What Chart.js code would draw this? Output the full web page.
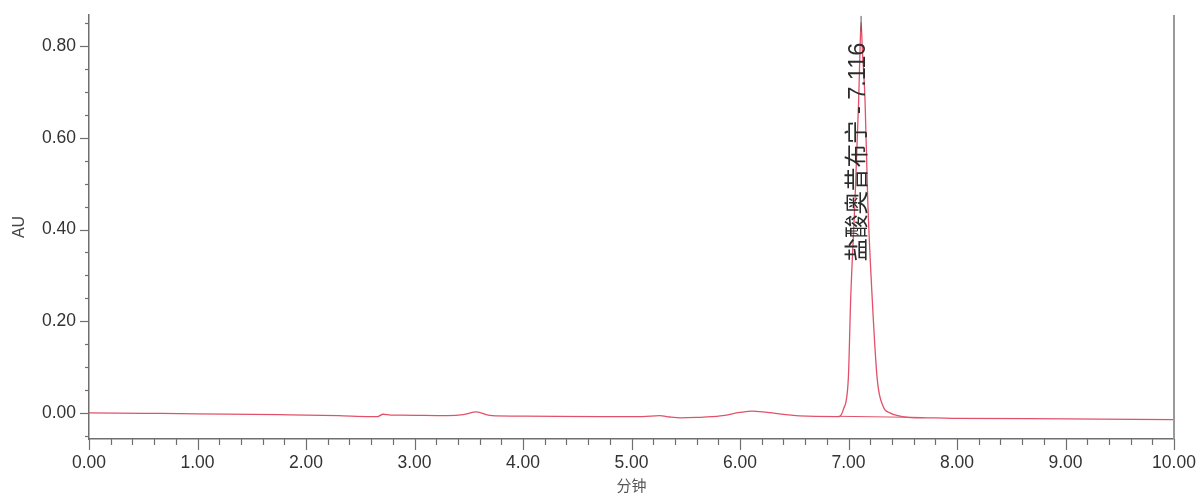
<!DOCTYPE html>
<html>
<head>
<meta charset="utf-8">
<script src="https://cdn.jsdelivr.net/npm/chart.js@4/dist/chart.umd.min.js"></script>
<style>
  html, body { margin: 0; padding: 0; background: #fff; }
  #wrap { width: 1202px; height: 496px; }
</style>
</head>
<body>
<div id="wrap"><canvas id="chrom"></canvas></div>
<script>
// chromatogram trace (min, AU)
const retentionTimes = [
  0.00, 0.50, 1.00, 1.76, 2.30, 2.59, 2.66, 2.71, 2.78, 2.87,
  3.30, 3.45, 3.57, 3.68, 3.75, 4.00, 4.70, 5.10, 5.26, 5.35,
  5.45, 5.60, 5.82, 6.00, 6.11, 6.25, 6.55, 6.90,
  6.922, 6.952, 6.998, 7.020, 7.060, 7.094, 7.106, 7.116,
  7.128, 7.152, 7.177, 7.214, 7.265, 7.320, 7.382, 7.475,
  7.54, 7.80, 8.00, 9.00, 10.00
];
const absorbance = [
  0.000, -0.001, -0.002, -0.004, -0.006, -0.008, -0.008, -0.003, -0.005, -0.005,
  -0.006, -0.004, 0.002, -0.005, -0.0066, -0.007, -0.008, -0.008, -0.006, -0.009,
  -0.011, -0.010, -0.0066, 0.001, 0.004, 0.001, -0.0066, -0.008,
  -0.007, 0.007, 0.073, 0.248, 0.466, 0.685, 0.790, 0.852,
  0.790, 0.685, 0.466, 0.270, 0.073, 0.014, 0.000, -0.007,
  -0.0096, -0.011, -0.012, -0.013, -0.0146
];

// integration baseline under the main peak
const baselineTimes = [6.922, 7.54];
const baselineValues = [-0.0075, -0.0096];

// peak annotation
const peakName = '盐酸奥昔布宁';
const peakTime = 7.116;
const peakApex = 0.852;
const peakMarkTop = 0.866;
const labelStart = 0.33;

const xTitle = '分钟';
const yTitle = 'AU';

const FONT = '"Liberation Sans", Arial, "Noto Sans CJK SC", sans-serif';

function toPoints(xs, ys) {
  return xs.map((x, i) => ({ x: x, y: ys[i] }));
}

function isMajor(v, step) {
  const r = v / step;
  return Math.abs(r - Math.round(r)) < 1e-6;
}

// draws the major/minor tick marks, right frame line and the peak label
const chromPlugin = {
  id: 'chromDecor',
  afterDraw(chart) {
    const ctx = chart.ctx;
    const xs = chart.scales.x;
    const ys = chart.scales.y;
    const area = chart.chartArea;

    ctx.save();
    ctx.strokeStyle = '#6f6f6f';
    ctx.lineWidth = 1.2;

    ys.ticks.forEach(t => {
      const py = Math.round(ys.getPixelForValue(t.value)) + 0.5;
      const len = isMajor(t.value, 0.2) ? 9 : 4;
      ctx.beginPath();
      ctx.moveTo(area.left - len, py);
      ctx.lineTo(area.left, py);
      ctx.stroke();
    });

    xs.ticks.forEach(t => {
      const px = Math.round(xs.getPixelForValue(t.value)) + 0.5;
      const len = isMajor(t.value, 1) ? 11 : 6;
      ctx.beginPath();
      ctx.moveTo(px, area.bottom);
      ctx.lineTo(px, area.bottom + len);
      ctx.stroke();
    });

    // right frame line
    ctx.strokeStyle = '#9a9a9a';
    ctx.lineWidth = 2;
    ctx.beginPath();
    ctx.moveTo(area.right, area.top);
    ctx.lineTo(area.right, area.bottom);
    ctx.stroke();

    // apex marker
    const apx = xs.getPixelForValue(peakTime);
    ctx.strokeStyle = '#555';
    ctx.lineWidth = 1;
    ctx.beginPath();
    ctx.moveTo(apx, ys.getPixelForValue(peakApex - 0.02));
    ctx.lineTo(apx, ys.getPixelForValue(peakMarkTop));
    ctx.stroke();

    // rotated peak label
    ctx.translate(apx - 3, ys.getPixelForValue(labelStart));
    ctx.rotate(-Math.PI / 2);
    ctx.fillStyle = '#2b2b2b';
    ctx.font = '23.5px ' + FONT;
    ctx.textAlign = 'left';
    ctx.textBaseline = 'middle';
    ctx.fillText(peakName + ' - ' + peakTime.toFixed(3), 0, 0);
    ctx.restore();
  }
};

const ctx = document.getElementById('chrom').getContext('2d');
new Chart(ctx, {
  type: 'line',
  data: {
    datasets: [
      {
        data: toPoints(retentionTimes, absorbance),
        borderColor: 'rgb(225, 82, 106)',
        borderWidth: 1.3,
        pointRadius: 0,
        cubicInterpolationMode: 'monotone',
        fill: false
      },
      {
        data: toPoints(baselineTimes, baselineValues),
        borderColor: 'rgb(225, 82, 106)',
        borderWidth: 1,
        pointRadius: 0,
        fill: false
      }
    ]
  },
  options: {
    responsive: true,
    maintainAspectRatio: false,
    animation: false,
    events: [],
    layout: { padding: { top: 15, right: 28, left: 0, bottom: 0 } },
    plugins: {
      legend: { display: false },
      tooltip: { enabled: false }
    },
    scales: {
      x: {
        type: 'linear',
        min: 0,
        max: 10,
        afterFit(scale) {
          scale.height = 57;
          scale.paddingLeft = 0;
          scale.paddingRight = 0;
        },
        grid: { display: false, drawTicks: false },
        border: { display: true, color: '#6f6f6f', width: 1.5 },
        ticks: {
          stepSize: 0.2,
          autoSkip: false,
          maxRotation: 0,
          padding: 14,
          color: '#333',
          font: { family: FONT, size: 17.5 },
          callback: v => isMajor(v, 1) ? v.toFixed(2) : ''
        },
        title: {
          display: true,
          text: xTitle,
          color: '#555',
          font: { family: FONT, size: 15 },
          padding: { top: 0, bottom: 0 }
        }
      },
      y: {
        type: 'linear',
        min: -0.057,
        max: 0.868,
        afterFit(scale) {
          scale.width = 89;
          scale.paddingTop = 0;
          scale.paddingBottom = 0;
        },
        grid: { display: false, drawTicks: false },
        border: { display: true, color: '#6f6f6f', width: 1.5 },
        ticks: {
          stepSize: 0.05,
          includeBounds: false,
          autoSkip: false,
          padding: 13,
          color: '#333',
          font: { family: FONT, size: 17.5 },
          callback: v => isMajor(v, 0.2) ? v.toFixed(2) : ''
        },
        title: {
          display: true,
          text: yTitle,
          color: '#444',
          font: { family: FONT, size: 16 },
          padding: { top: 10, bottom: 0 }
        }
      }
    }
  },
  plugins: [chromPlugin]
});
</script>
</body>
</html>
